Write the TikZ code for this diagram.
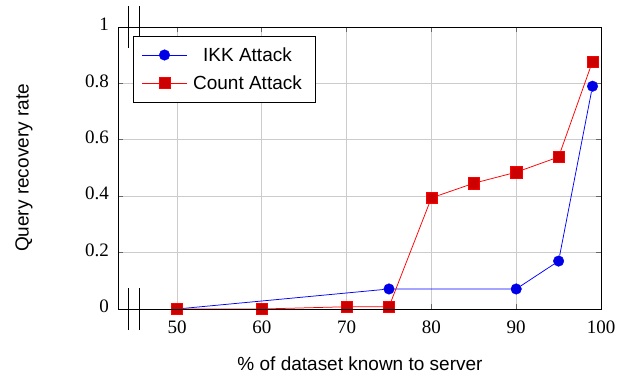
\documentclass[tikz,border=0pt]{standalone}
\usepackage{fontspec}
\setmainfont{Liberation Serif}
\newfontfamily\labelfont{Liberation Sans}
\usepackage{tikz}
\usetikzlibrary{positioning}
\tikzstyle{ikkmark} = [circle, draw=blue, fill=blue!90!black, inner sep=0pt, minimum size=10.6pt]
\tikzstyle{countmark} = [rectangle, draw=red, fill=red!80!black, inner sep=0pt, minimum size=11.2pt]
\tikzstyle{ikkline} = [blue, line width=0.75pt]
\tikzstyle{countline} = [red, line width=0.75pt]
\tikzstyle{gridline} = [gray!40, line width=0.75pt]
\tikzstyle{tickmark} = [gray!80!black, line width=0.75pt]
\tikzstyle{axisline} = [black, line width=0.8pt]
\tikzstyle{ticklabel} = [inner sep=0pt]
\tikzstyle{sans} = [font=\labelfont\fontsize{19}{23}\selectfont]
\tikzstyle{legendbox} = [rectangle, draw=black, fill=white, line width=0.8pt, minimum width=182pt, minimum height=66pt]

\begin{document}
\begin{tikzpicture}[font=\fontsize{19}{23}\selectfont]
\useasboundingbox (0,0) rectangle (635pt,381pt);
\begin{scope}[shift={(-247pt,72pt)}, x=8.48pt, y=282pt]
% grid
\foreach \x in {50,60,...,90} \draw[gridline] (\x,0) -- (\x,1);
\foreach \y in {0.2,0.4,0.6,0.8} \draw[gridline] (43.04,\y) -- (100,\y);
% ticks
\foreach \x in {50,60,...,90} {
  \draw[tickmark] (\x,0) -- ++(0,5pt);
  \draw[tickmark] (\x,1) -- ++(0,-5pt);
}
\foreach \y in {0.2,0.4,0.6,0.8} {
  \draw[tickmark] (43.04,\y) -- ++(5pt,0);
  \draw[tickmark] (100,\y) -- ++(-5pt,0);
}
% tick labels
\foreach \x in {50,60,...,100}
  \node[ticklabel, anchor=base, yshift=-24pt] (xt\x) at (\x,0) {\x};
\foreach \y/\t in {0/0,0.2/0.2,0.4/0.4,0.6/0.6,0.8/0.8,1/1}
  \node[ticklabel, anchor=mid east, xshift=-9pt, yshift=-1.5pt] at (43.04,\y) {\t};
% IKK attack
\node[ikkmark] (i50) at (50,0) {};
\node[ikkmark] (i75) at (75,0.071) {};
\node[ikkmark] (i90) at (90,0.071) {};
\node[ikkmark] (i95) at (95,0.17) {};
\node[ikkmark] (i99) at (99,0.79) {};
\draw[ikkline] (i50) -- (i75) -- (i90) -- (i95) -- (i99);
% Count attack
\node[countmark] (c50) at (50,0) {};
\node[countmark] (c60) at (60,0) {};
\node[countmark] (c70) at (70,0.008) {};
\node[countmark] (c75) at (75,0.008) {};
\node[countmark] (c80) at (80,0.394) {};
\node[countmark] (c85) at (85,0.446) {};
\node[countmark] (c90) at (90,0.485) {};
\node[countmark] (c95) at (95,0.539) {};
\node[countmark] (c99) at (99,0.878) {};
\draw[countline] (c50) -- (c60) -- (c70) -- (c75) -- (c80) -- (c85) -- (c90) -- (c95) -- (c99);
% frame and breaks
\draw[axisline] (43.04,0) rectangle (100,1);
\foreach \x in {44.28,45.52} {
  \draw[axisline] (\x,-0.075) -- (\x,0.075);
  \draw[axisline] (\x,0.925) -- (\x,1.075);
}
\end{scope}
% legend
\node[legendbox] (legend) at (224pt,312pt) {};
\coordinate (ikka) at (142pt,326pt);
\coordinate (ikkb) at (187pt,326pt);
\draw[ikkline] (ikka) -- (ikkb);
\node[ikkmark] (ikkm) at (164.5pt,326pt) {};
\node[sans, anchor=base] (ikktext) at (247.5pt,319.2pt) {IKK Attack};
\coordinate (counta) at (142pt,298pt);
\coordinate (countb) at (187pt,298pt);
\draw[countline] (counta) -- (countb);
\node[countmark] (countm) at (164.5pt,298pt) {};
\node[sans, anchor=base] (counttext) at (247.5pt,291.2pt) {Count Attack};
% axis labels
\node[sans, anchor=base] (xlabel) at (360pt,10.5pt) {\% of dataset known to server};
\node[sans, anchor=base, rotate=90] (ylabel) at (28.6pt,213pt) {Query recovery rate};
\end{tikzpicture}
\end{document}
